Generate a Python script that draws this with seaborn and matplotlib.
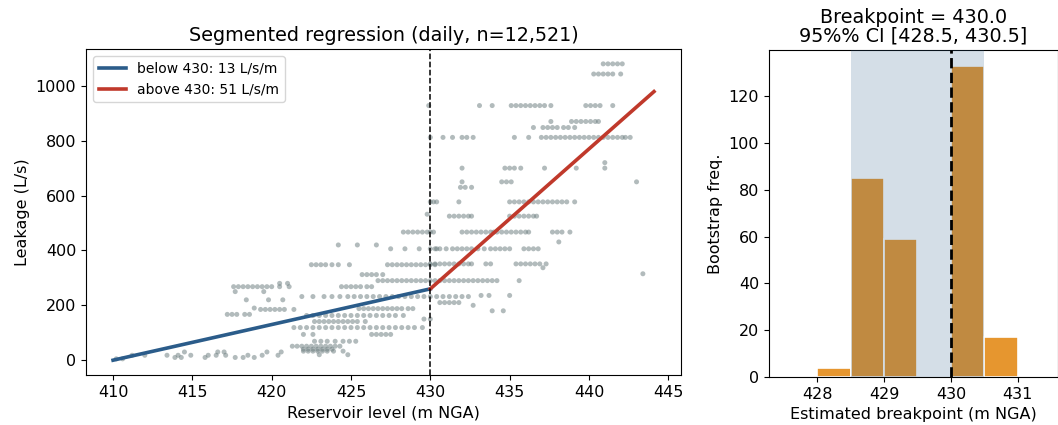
import numpy as np
import pandas as pd
import seaborn as sns
import matplotlib
matplotlib.use("Agg")
import matplotlib.pyplot as plt

# Scatter bands: leakage level (L/s) and the reservoir levels seen at it
band_levels = [5, 18, 10, 30, 268, 250, 167, 185, 190, 220, 280,
               467, 420, 406, 348, 312, 290, 268, 232, 210, 188, 163, 141, 119, 94, 69, 51, 40, 33, 20, 150,
               1080, 1043, 928, 870, 848, 812, 720, 700, 650, 630, 577, 532, 525, 467, 431, 406, 351, 337, 315,
               290, 236, 180, 200]
band_x = [
    [410.2, 410.6],
    [411.2, 412.0, 413.4, 414.1, 414.9, 416.0, 416.5, 417.1, 418.5, 419.4, 420.4],
    [413.9, 414.3, 415.8, 417.7, 418.2, 418.9],
    [414.5, 416.6, 417.0, 419.7, 420.6],
    [417.6, 417.9, 418.2, 418.5, 418.8, 419.1, 419.4, 419.7, 420.0, 420.5, 421.1],
    [417.7, 419.5],
    [417.2, 417.5, 417.8, 418.3, 418.6],
    [419.3, 419.6, 419.9, 420.2, 420.5, 420.8, 421.4],
    [418.9],
    [418.4, 419.8, 420.7],
    [420.5, 421.0],
    # middle
    [428.3, 428.6, 428.9, 429.2, 429.5, 429.8],
    [424.2, 425.4, 426.6],
    [427.5, 428.4, 429.3, 430.4],
    [422.5, 422.8, 423.1, 423.4, 423.8, 424.2, 424.9, 427.3, 427.6, 427.9, 428.2, 428.5, 428.8,
     429.1, 429.4, 429.7, 430.0, 430.3],
    [425.7, 426.0, 426.3, 426.6, 427.0],
    [426.7, 427.0, 427.3, 427.6, 427.9, 428.2, 428.5, 428.8, 429.1, 429.4, 429.7, 430.0, 430.3,
     430.6, 430.9, 431.2, 431.5, 431.8, 432.1],
    [424.4, 424.7, 425.0, 425.3, 425.6, 426.0, 426.3],
    [421.9, 422.6, 423.3, 423.8, 424.3, 424.8, 425.2, 425.6, 426.0, 426.4, 426.8, 427.2, 427.6,
     428.0, 428.4, 428.8, 429.2, 429.6, 430.0, 430.4, 430.8, 431.2, 431.6, 432.0, 432.4],
    [430.6, 430.9, 431.2, 431.5, 431.8],
    [425.5, 425.8, 426.1, 426.4, 426.7, 427.0, 427.3, 427.6, 427.9, 428.2, 428.6, 428.9],
    [422.2, 422.6, 423.0, 423.4, 423.8, 424.2, 424.6, 425.0, 425.4, 425.8, 426.2, 426.6, 427.0,
     427.4, 427.8, 428.3],
    [422.7, 423.0, 423.3, 423.6, 423.9, 424.2, 424.5, 424.8, 425.1, 425.4, 425.9],
    [421.4, 421.8, 422.2, 422.6, 423.0, 423.4, 423.8, 424.2, 424.6, 425.0, 425.4, 425.8, 426.2,
     426.6, 427.0, 427.4, 427.8, 428.2, 428.6, 429.0, 429.5],
    [422.0, 422.6, 426.3, 426.6, 426.9, 427.2, 427.5],
    [422.7, 423.1, 423.5, 424.0, 424.5, 424.9, 425.3],
    [421.3, 421.6, 421.9, 422.2, 422.5, 422.8, 423.1, 423.4, 423.7, 424.0, 424.3],
    [422.0, 422.3, 422.6, 422.9, 423.2, 423.5, 423.8],
    [422.0, 422.3, 422.6, 422.9, 423.2, 423.5, 423.9, 424.5],
    [423.0, 424.8],
    [429.6, 430.0],
    # upper right
    [440.9, 441.2, 441.5, 441.8, 442.1],
    [440.3, 440.6, 440.9, 441.2, 441.5, 442.0],
    [429.9, 433.1, 433.9, 435.1, 435.4, 435.7, 436.0, 436.3, 436.6, 436.9, 437.2, 437.6, 439.8,
     440.1, 440.4, 440.7, 441.5],
    [437.6, 438.9, 439.2, 439.5, 439.8, 440.1, 440.4, 440.6],
    [436.5, 437.1, 437.4, 437.7, 438.0, 438.4, 438.7, 439.1],
    [430.0, 430.8, 431.4, 432.0, 432.3, 432.7, 435.3, 436.2, 437.0, 437.3, 437.6, 437.9, 438.2,
     438.5, 438.8, 439.1, 439.4, 439.7, 440.0, 440.3, 440.6, 440.9, 441.2, 441.5, 441.8, 442.1,
     442.3, 442.6],
    [441.0],
    [432.0, 434.7, 435.0, 435.3, 435.7, 437.2, 439.2, 441.0],
    [432.0, 434.5, 434.8, 435.1, 443.0],
    [431.9, 432.2, 432.6],
    [430.0, 430.2, 430.4, 431.8, 435.0, 435.3, 435.6, 435.9, 436.2, 436.5, 436.8, 437.1, 437.4,
     437.7, 438.0, 438.3, 438.6, 439.1],
    [429.8],
    [431.2, 431.5, 431.8, 432.1, 432.4, 432.6, 435.0, 435.3, 435.6, 435.9, 436.2, 436.5, 436.7],
    [430.0, 430.2, 432.0, 432.3, 432.6, 432.9, 433.2, 433.5, 433.8, 434.0, 434.2, 434.5, 434.8,
     435.1, 435.4, 435.7, 436.0, 436.2, 437.7, 438.0, 438.3, 438.8],
    [438.1],
    [430.0, 430.3, 430.6, 431.0, 431.4, 431.7, 432.0, 432.3, 432.6, 433.0, 433.4, 433.8, 434.1,
     434.4, 434.7, 435.0, 435.9, 436.2, 436.5, 436.8],
    [430.0, 430.3, 430.6, 430.9, 431.2, 431.5, 431.8, 432.1, 432.4, 432.6, 433.5, 433.8, 435.4,
     435.7, 436.0, 436.3, 436.6, 436.9, 437.3],
    [437.1],
    [443.4],
    [432.4, 432.7, 433.0, 433.3, 433.6, 433.9, 434.2, 435.6],
    [433.2, 433.7, 435.0],
    [433.9, 434.6],
    [432.7],
]

# fitted segments
breakpoint = 430.0
below_x = [410.0, 430.0]
below_y = [0.0, 260.0]
above_x = [430.0, 444.1]
above_y = [260.0, 979.0]

# bootstrap histogram of breakpoint estimates
bin_edges = [428.0, 428.5, 429.0, 429.5, 430.0, 430.5, 431.0]
bin_counts = [4, 85, 59, 0, 133, 17]
ci_low, ci_high = 428.5, 430.5

rows = [(x, lev) for lev, xs in zip(band_levels, band_x) for x in xs]
scatter_df = pd.DataFrame(rows, columns=["level", "leakage"])

blue = "#2b5c8a"
red = "#c0392b"
orange = "#e6962f"

fig = plt.figure(figsize=(10.58, 4.25), dpi=100)
ax1 = fig.add_axes([0.0813, 0.1176, 0.5624, 0.767])
ax2 = fig.add_axes([0.7268, 0.113, 0.2732, 0.769])

sns.scatterplot(data=scatter_df, x="level", y="leakage", ax=ax1, color="#66787a",
                s=13, alpha=0.5, edgecolor="none", legend=False)
sns.lineplot(x=below_x, y=below_y, ax=ax1, color=blue, lw=2.6,
             label="below 430: 13 L/s/m")
sns.lineplot(x=above_x, y=above_y, ax=ax1, color=red, lw=2.6,
             label="above 430: 51 L/s/m")
ax1.axvline(breakpoint, color="black", ls="--", lw=1.1)
ax1.set_xlabel("Reservoir level (m NGA)", fontsize=11.5)
ax1.set_ylabel("Leakage (L/s)", fontsize=11.5)
ax1.set_title("Segmented regression (daily, n=12,521)", fontsize=13.8)
ax1.tick_params(labelsize=11.5)
ax1.legend(loc="upper left", fontsize=10)

centers = [(a + b) / 2 for a, b in zip(bin_edges[:-1], bin_edges[1:])]
sns.histplot(x=centers, weights=bin_counts, bins=bin_edges, ax=ax2, color=orange,
             alpha=1.0, edgecolor="white", linewidth=1.2)
ax2.axvspan(ci_low, ci_high, color=blue, alpha=0.2, lw=0, zorder=3)
ax2.axvline(breakpoint, color="black", ls="--", lw=2, zorder=4)
ax2.set_xlim(427.28, 431.6)
ax2.set_xticks([428, 429, 430, 431])
ax2.set_xlabel("Estimated breakpoint (m NGA)", fontsize=11.5)
ax2.set_ylabel("Bootstrap freq.", fontsize=11.5)
ax2.set_title("Breakpoint = 430.0\n95%% CI [428.5, 430.5]", fontsize=13.8, linespacing=1.0)
ax2.tick_params(labelsize=11.5)

fig.savefig("out.png", dpi=100)
